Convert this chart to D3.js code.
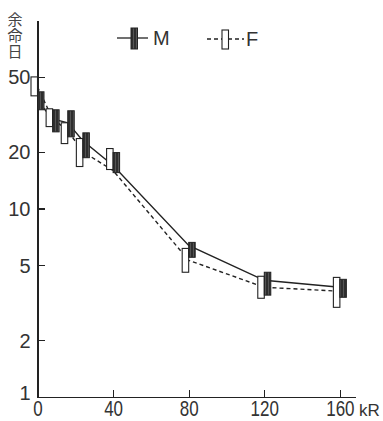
<!DOCTYPE html>
<html lang="ja">
<head>
<meta charset="utf-8">
<script src="https://cdn.jsdelivr.net/npm/d3@7"></script>
<style>
  body { margin: 0; background: #fff; }
  .axis path, .axis line { stroke: #222; stroke-width: 1.3; shape-rendering: crispEdges; }
  .axis text { font-family: "Liberation Sans", Arial, sans-serif; font-size: 20px; fill: #333; }
</style>
</head>
<body>
<script>
// dose (kR)
var doses = [0, 8, 16, 24, 40, 80, 120, 160];
// M: central value, range low, range high (days)
var mMid  = [37.3, 29.9, 28.5, 22.9, 16.9, 6.37, 4.16, 3.82];
var mLow  = [33.4, 25.5, 24.0, 18.6, 15.5, 5.51, 3.47, 3.38];
var mHigh = [41.6, 33.4, 33.0, 25.2, 19.8, 6.61, 4.59, 4.21];
// F
var fMid  = [44.2, 29.9, 25.9, 20.0, 15.9, 5.31, 3.82, 3.64];
var fLow  = [39.6, 27.2, 22.1, 16.7, 16.1, 4.59, 3.34, 2.99];
var fHigh = [49.9, 33.8, 28.5, 23.5, 20.8, 6.14, 4.37, 4.31];

var yTicks = [1, 2, 5, 10, 20, 50];
var xTicks = [0, 40, 80, 120, 160];

var w = 383, h = 421;
var svg = d3.select("body").append("svg").attr("width", w).attr("height", h);

var defs = svg.append("defs");
var pat = defs.append("pattern").attr("id", "hatch")
    .attr("width", 3).attr("height", 3).attr("patternUnits", "userSpaceOnUse");
pat.append("rect").attr("width", 3).attr("height", 3).attr("fill", "#2e2e2e");
pat.append("rect").attr("x", 1).attr("width", 1).attr("height", 3).attr("fill", "#555");

var x = d3.scaleLinear().domain([0, 168]).range([37.5, 355]);
var y = d3.scaleLog().domain([1, 100]).range([397, 20]);

var yAxis = d3.axisLeft(y).tickValues(yTicks).tickFormat(d3.format("d"))
    .tickSizeInner(-7).tickSizeOuter(0).tickPadding(7);
var xAxis = d3.axisBottom(x).tickValues(xTicks)
    .tickSizeInner(-7).tickSizeOuter(0).tickPadding(3);

svg.append("g").attr("class", "axis").attr("transform", "translate(37.5,0)").call(yAxis)
  .selectAll("text").attr("dy", function(d) { return d == 1 ? "0.1em" : "0.35em"; });
// narrow, tall digits like the printed figure
svg.append("g").attr("class", "axis").attr("transform", "translate(0,397)").call(xAxis)
  .selectAll("text").attr("transform", "scale(0.85,1.1)");

// axis titles
svg.append("text")
    .attr("x", 15).attr("y", 12)
    .attr("writing-mode", "vertical-rl")
    .attr("letter-spacing", 1)
    .attr("font-family", "Noto Sans CJK JP")
    .attr("font-size", 15)
    .attr("fill", "#444")
    .text("余命日");

svg.append("text").attr("x", 359).attr("y", 416)
    .attr("font-family", "Liberation Sans, sans-serif").attr("font-size", 17)
    .attr("fill", "#333").text("kR");

// lines
var mLine = d3.line().x(function(d, i) { return x(doses[i]); }).y(function(d) { return y(d); });
svg.append("path").attr("d", mLine(mMid))
    .attr("fill", "none").attr("stroke", "#222").attr("stroke-width", 1.4);
svg.append("path").attr("d", mLine(fMid))
    .attr("fill", "none").attr("stroke", "#222").attr("stroke-width", 1.4)
    .attr("stroke-dasharray", "4,3");

// boxes: F left of the dose, M right
var bw = 6.5;
svg.selectAll(".fbox").data(doses).enter().append("rect")
    .attr("class", "fbox")
    .attr("x", function(d) { return x(d) - bw; })
    .attr("y", function(d, i) { return y(fHigh[i]); })
    .attr("width", bw)
    .attr("height", function(d, i) { return y(fLow[i]) - y(fHigh[i]); })
    .attr("fill", "#fff").attr("stroke", "#222").attr("stroke-width", 1.1);

svg.selectAll(".mbox").data(doses).enter().append("rect")
    .attr("class", "mbox")
    .attr("x", function(d) { return x(d); })
    .attr("y", function(d, i) { return y(mHigh[i]); })
    .attr("width", bw)
    .attr("height", function(d, i) { return y(mLow[i]) - y(mHigh[i]); })
    .attr("fill", "url(#hatch)").attr("stroke", "#222").attr("stroke-width", 1);

// legend
var leg = svg.append("g");
leg.append("line").attr("x1", 117).attr("x2", 148).attr("y1", 38).attr("y2", 38)
    .attr("stroke", "#222").attr("stroke-width", 1.3);
leg.append("rect").attr("x", 131).attr("y", 28).attr("width", 6.5).attr("height", 21)
    .attr("fill", "url(#hatch)").attr("stroke", "#222").attr("stroke-width", 1);
leg.append("text").attr("x", 153).attr("y", 45)
    .attr("font-family", "Liberation Sans, sans-serif").attr("font-size", 20)
    .attr("fill", "#333").text("M");

leg.append("line").attr("x1", 207).attr("x2", 244).attr("y1", 39).attr("y2", 39)
    .attr("stroke", "#222").attr("stroke-width", 1.3).attr("stroke-dasharray", "4,3");
leg.append("rect").attr("x", 222).attr("y", 30).attr("width", 6.5).attr("height", 19)
    .attr("fill", "#fff").attr("stroke", "#222").attr("stroke-width", 1.1);
leg.append("text").attr("x", 246).attr("y", 46)
    .attr("font-family", "Liberation Sans, sans-serif").attr("font-size", 20)
    .attr("fill", "#333").text("F");
</script>
</body>
</html>
